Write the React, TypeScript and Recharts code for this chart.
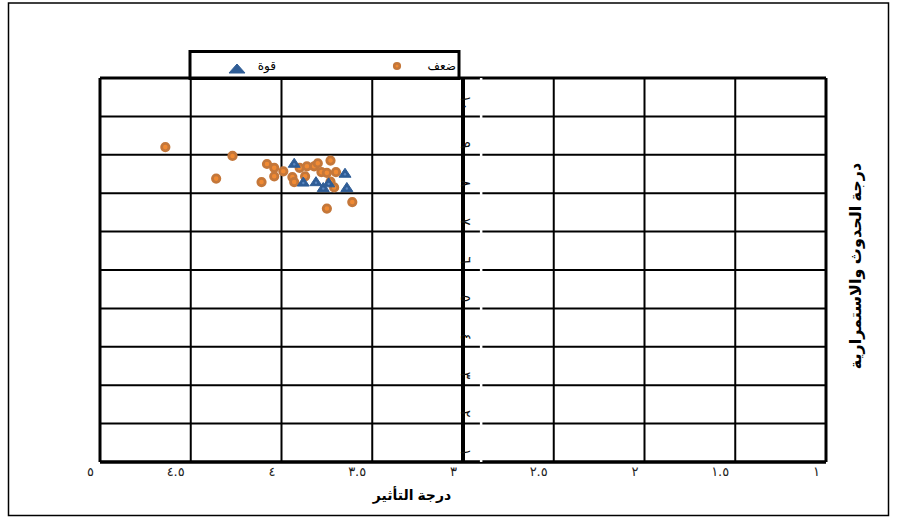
import React from 'react';
import {
  ScatterChart,
  Scatter,
  XAxis,
  YAxis,
  CartesianGrid,
  ReferenceLine,
  ReferenceDot,
  Customized,
} from 'recharts';

// ---- data ----
const seriesNames = ['ضعف', 'قوة'];

// "ضعف" (weakness) points: impact (x) and occurrence (y)
const weakImpact = [4.64, 4.27, 4.36, 4.11, 4.08, 4.04, 4.04, 3.99, 3.94, 3.93, 3.90, 3.87, 3.86, 3.82, 3.80, 3.78, 3.75, 3.73, 3.70, 3.73, 3.71, 3.75, 3.61];
const weakOccurrence = [9.20, 8.97, 8.38, 8.29, 8.76, 8.66, 8.44, 8.57, 8.42, 8.29, 8.66, 8.44, 8.70, 8.70, 8.78, 8.55, 8.53, 8.85, 8.55, 8.30, 8.15, 7.60, 7.77];

// "قوة" (strength) points
const strengthImpact = [3.93, 3.88, 3.81, 3.77, 3.65, 3.64, 3.74];
const strengthOccurrence = [8.78, 8.29, 8.30, 8.15, 8.52, 8.15, 8.27];

const xTicks = [1, 1.5, 2, 2.5, 3, 3.5, 4, 4.5, 5];
const xTickLabels = ['١', '١.٥', '٢', '٢.٥', '٣', '٣.٥', '٤', '٤.٥', '٥'];
const yTicks = [1, 2, 3, 4, 5, 6, 7, 8, 9, 10, 11];
const yTickLabels = ['١', '٢', '٣', '٤', '٥', '٦', '٧', '٨', '٩', '١٠'];

const xTitle = 'درجة التأثير';
const yTitle = 'درجة الحدوث والاستمرارية';

const weakData = weakImpact.map((x, i) => ({ x, y: weakOccurrence[i] }));
const strengthData = strengthImpact.map((x, i) => ({ x, y: strengthOccurrence[i] }));

const FONT = "Arial, 'DejaVu Sans', sans-serif";
const ORANGE_RING = '#C4773A';
const ORANGE_FILL = '#F08A33';
const BLUE = '#2F5D96';
const BLUE_LIGHT = '#5A86C0';

const CircleMarker = (props: any) => {
  const { cx, cy } = props;
  if (cx == null || cy == null) return null;
  return <circle cx={cx} cy={cy} r={3.7} fill={ORANGE_FILL} stroke={ORANGE_RING} strokeWidth={2.8} />;
};

const TriangleMarker = (props: any) => {
  const { cx, cy } = props;
  if (cx == null || cy == null) return null;
  return (
    <g>
      <polygon
        points={`${cx - 6},${cy + 4} ${cx + 6},${cy + 4} ${cx},${cy - 5}`}
        fill={BLUE}
        stroke={BLUE}
        strokeWidth={1}
        strokeLinejoin="round"
      />
      <circle cx={cx} cy={cy + 1} r={1.2} fill={BLUE_LIGHT} />
    </g>
  );
};

const XTick = (props: any) => {
  const { x, y, payload } = props;
  const i = xTicks.indexOf(payload.value);
  return (
    <text x={x - 6} y={y + 6} textAnchor="end" fontSize={13} fill="#222" fontFamily="'DejaVu Sans', sans-serif">
      {xTickLabels[i]}
    </text>
  );
};

const EmptyTick = () => <g />;

const makeYLabel = (label: string) => (props: any) => {
  const vb = props.viewBox || {};
  const cx = (vb.x ?? 0) + (vb.width ?? 0) / 2;
  const cy = (vb.y ?? 0) + (vb.height ?? 0) / 2;
  const ax = cx - 2;
  const ay = cy - 6;
  return (
    <text
      x={ax}
      y={ay}
      transform={`rotate(90 ${ax} ${ay})`}
      textAnchor="end"
      fontSize={14}
      fill="#111"
      fontFamily="'DejaVu Sans', sans-serif"
    >
      {label}
    </text>
  );
};

const Decorations = () => (
  <g>
    {/* outer chart border */}
    <rect x={8.5} y={3} width={880} height={512.5} fill="none" stroke="#000" strokeWidth={1.5} />
    {/* legend box */}
    <rect x={190} y={51.5} width={269} height={27} fill="#fff" stroke="#000" strokeWidth={3} />
    <circle cx={397} cy={66} r={2.8} fill={ORANGE_FILL} stroke={ORANGE_RING} strokeWidth={2.6} />
    <text x={456} y={70} textAnchor="end" fontSize={12} fill="#000" fontFamily={FONT}>
      {seriesNames[0]}
    </text>
    <polygon points="229,73 245,73 237,64" fill={BLUE} stroke={BLUE} strokeWidth={1} strokeLinejoin="round" />
    <text x={276} y={70} textAnchor="end" fontSize={12} fill="#000" fontFamily={FONT}>
      {seriesNames[1]}
    </text>
    {/* axis titles */}
    <text x={412} y={500} textAnchor="middle" fontSize={14} fontWeight="bold" fill="#000" fontFamily={FONT}>
      {xTitle}
    </text>
    <text
      x={861}
      y={266}
      transform="rotate(-90 861 266)"
      textAnchor="middle"
      fontSize={16}
      fontWeight="bold"
      fill="#000"
      fontFamily={FONT}
    >
      {yTitle}
    </text>
  </g>
);

export default function App() {
  return (
    <div style={{ position: 'absolute', left: 0, top: 0, width: 898, height: 517, background: '#fff' }}>
      <ScatterChart
        width={898}
        height={517}
        margin={{ top: 78, right: 72, bottom: 54, left: 99 }}
        style={{ fontFamily: FONT }}
      >
        <CartesianGrid stroke="#000" strokeWidth={2} />
        <XAxis
          type="number"
          dataKey="x"
          domain={[1, 5]}
          reversed
          ticks={xTicks}
          interval={0}
          height={1}
          axisLine={false}
          tickLine={false}
          tick={<XTick />}
          allowDataOverflow
        />
        <YAxis
          type="number"
          dataKey="y"
          domain={[1, 11]}
          ticks={yTicks}
          interval={0}
          width={1}
          axisLine={false}
          tickLine={false}
          tick={<EmptyTick />}
          allowDataOverflow
        />
        <ReferenceLine x={5} stroke="#000" strokeWidth={3} />
        <ReferenceLine x={1} stroke="#000" strokeWidth={3} />
        <ReferenceLine y={1} stroke="#000" strokeWidth={3.5} />
        <ReferenceLine y={11} stroke="#000" strokeWidth={3} />
        <ReferenceLine x={3} stroke="#000" strokeWidth={4} />
        <ReferenceLine x={2.9} stroke="#fff" strokeWidth={2.5} />
        {yTickLabels.map((lab, i) => (
          <ReferenceDot
            key={lab}
            x={3}
            y={yTicks[i]}
            r={1}
            fill="none"
            stroke="none"
            label={makeYLabel(lab)}
          />
        ))}
        <Scatter name={seriesNames[0]} data={weakData} shape={CircleMarker} isAnimationActive={false} />
        <Scatter name={seriesNames[1]} data={strengthData} shape={TriangleMarker} isAnimationActive={false} />
        <Customized component={Decorations} />
      </ScatterChart>
    </div>
  );
}
